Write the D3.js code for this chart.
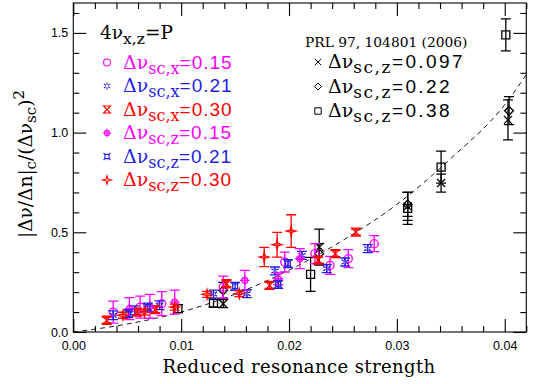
<!DOCTYPE html>
<html>
<head>
<meta charset="utf-8">
<script src="https://cdn.jsdelivr.net/npm/d3@7"></script>
<style>
  body { margin: 0; background: #fff; }
  svg { display: block; }
</style>
</head>
<body>
<svg id="chart" width="535" height="384"></svg>
<script>
// ---- measured points: reduced resonance strength vs |dnu/dn|_c / (dnu_sc)^2 ----
// Δν_sc,x = 0.15 (magenta circles)
const sx15X = [0.0037, 0.0062, 0.0082, 0.0139, 0.0196, 0.0224, 0.0238, 0.0255, 0.0279];
const sx15Y = [0.100, 0.125, 0.142, 0.225, 0.351, 0.393, 0.334, 0.368, 0.443];
const sx15E = [0.055, 0.055, 0.060, 0.055, 0.050, 0.050, 0.045, 0.045, 0.040];
// Δν_sc,x = 0.21 (blue)
const sx21X = [0.0037, 0.0057, 0.0080, 0.0130, 0.0161, 0.0187, 0.0212, 0.0235, 0.0252, 0.0273];
const sx21Y = [0.084, 0.109, 0.134, 0.190, 0.192, 0.306, 0.384, 0.318, 0.351, 0.418];
const sx21E = [0.022, 0.022, 0.022, 0.020, 0.020, 0.020, 0.020, 0.020, 0.020, 0.020];
// Δν_sc,x = 0.30 (red)
const sx30X = [0.0031, 0.0059, 0.0076, 0.0142, 0.0182, 0.0227, 0.0243, 0.0262];
const sx30Y = [0.059, 0.100, 0.112, 0.242, 0.234, 0.360, 0.393, 0.501];
const sx30E = [0.015, 0.015, 0.015, 0.015, 0.015, 0.015, 0.015, 0.015];
// Δν_sc,z = 0.15 (magenta)
const sz15X = [0.0052, 0.0071, 0.0094, 0.0159, 0.0190, 0.0210];
const sz15Y = [0.117, 0.129, 0.150, 0.259, 0.267, 0.368];
const sz15E = [0.055, 0.060, 0.060, 0.050, 0.030, 0.050];
// Δν_sc,z = 0.21 (blue)
const sz21X = [0.0051, 0.0069, 0.0150, 0.0190, 0.0199];
const sz21Y = [0.092, 0.125, 0.229, 0.239, 0.343];
const sz21E = [0.020, 0.020, 0.020, 0.020, 0.020];
// Δν_sc,z = 0.30 (red)
const sz30X = [0.0046, 0.0066, 0.0094, 0.0124, 0.0154, 0.0177, 0.0189, 0.0202];
const sz30Y = [0.084, 0.100, 0.125, 0.189, 0.192, 0.376, 0.438, 0.506];
const sz30E = [0.015, 0.015, 0.015, 0.015, 0.015, 0.048, 0.062, 0.082];

// ---- earlier measurements, PRL 97, 104801 (2006) ----
const p097X = [0.0139, 0.0228, 0.0310, 0.0341, 0.0403];
const p097Y = [0.142, 0.426, 0.630, 0.747, 1.064];
const p097E = [0.020, 0.090, 0.070, 0.045, 0.100];
const p022X = [0.0139, 0.0228, 0.0310, 0.0404];
const p022Y = [0.209, 0.393, 0.640, 1.110];
const p022E = [0.040, 0.050, 0.060, 0.070];
const p038X = [0.0097, 0.0130, 0.0220, 0.0310, 0.0341, 0.0401];
const p038Y = [0.117, 0.145, 0.289, 0.620, 0.827, 1.490];
const p038E = [0.020, 0.020, 0.085, 0.080, 0.080, 0.080];

// dashed guide curve, sampled
const curveX = [0, 0.005, 0.010, 0.015, 0.020, 0.025, 0.030, 0.035, 0.040, 0.042];
const curveY = [0, 0.040, 0.100, 0.190, 0.310, 0.460, 0.640, 0.870, 1.140, 1.290];

// axis ticks
const xMajor = [0, 0.01, 0.02, 0.03, 0.04];
const yMajor = [0, 0.5, 1.0, 1.5];

const seriesNew = [
  { sub: "sc,x", val: "=0.15", color: "#ff00ff", shape: "circle",     xs: sx15X, ys: sx15Y, es: sx15E },
  { sub: "sc,x", val: "=0.21", color: "#1f1fe6", shape: "asterisk",   xs: sx21X, ys: sx21Y, es: sx21E },
  { sub: "sc,x", val: "=0.30", color: "#ff0000", shape: "hourglass",  xs: sx30X, ys: sx30Y, es: sx30E },
  { sub: "sc,z", val: "=0.15", color: "#ff00ff", shape: "circleplus", xs: sz15X, ys: sz15Y, es: sz15E },
  { sub: "sc,z", val: "=0.21", color: "#1f1fe6", shape: "box",        xs: sz21X, ys: sz21Y, es: sz21E },
  { sub: "sc,z", val: "=0.30", color: "#ff0000", shape: "star",       xs: sz30X, ys: sz30Y, es: sz30E }
];
const seriesOld = [
  { sub: "sc,z", val: "=0.097", color: "#000", shape: "cross",   xs: p097X, ys: p097Y, es: p097E },
  { sub: "sc,z", val: "=0.22",  color: "#000", shape: "diamond", xs: p022X, ys: p022Y, es: p022E },
  { sub: "sc,z", val: "=0.38",  color: "#000", shape: "square",  xs: p038X, ys: p038Y, es: p038E }
];

const svg = d3.select("#chart");
const L = 73.3, R = 526.3, T = 3, B = 332;
const x = d3.scaleLinear().domain([0, 0.042]).range([L, R]);
const y = d3.scaleLinear().domain([0, 1.65]).range([B, T]);

const serif = "'DejaVu Serif', 'Liberation Serif', serif";
const sans = "'Liberation Sans', Arial, sans-serif";

// marker outlines, centred on the point
const shapes = {
  circle: s => `M${s},0A${s},${s} 0 1,1 ${-s},0A${s},${s} 0 1,1 ${s},0Z`,
  asterisk: s => `M0,${-s}V${-s*0.35}M0,${s*0.35}V${s}M${-s*0.9},${-s*0.55}L${-s*0.3},${-s*0.18}M${s*0.3},${s*0.18}L${s*0.9},${s*0.55}M${-s*0.9},${s*0.55}L${-s*0.3},${s*0.18}M${s*0.3},${-s*0.18}L${s*0.9},${-s*0.55}`,
  hourglass: s => `M${-s},${-s}H${s}L${-s},${s}H${s}Z`,
  circleplus: s => `M${s*0.75},0A${s*0.75},${s*0.75} 0 1,1 ${-s*0.75},0A${s*0.75},${s*0.75} 0 1,1 ${s*0.75},0ZM${-s*1.2},0H${s*1.2}M0,${-s*1.2}V${s*1.2}`,
  box: s => `M${-s*0.6},${-s*0.6}H${s*0.6}V${s*0.6}H${-s*0.6}ZM${-s*0.6},${-s*0.6}L${-s},${-s}M${s*0.6},${-s*0.6}L${s},${-s}M${s*0.6},${s*0.6}L${s},${s}M${-s*0.6},${s*0.6}L${-s},${s}`,
  star: s => `M0,${-s*1.2}L${s*0.25},${-s*0.25}L${s*1.2},0L${s*0.25},${s*0.25}L0,${s*1.2}L${-s*0.25},${s*0.25}L${-s*1.2},0L${-s*0.25},${-s*0.25}Z`,
  cross: s => `M${-s},${-s}L${s},${s}M${-s},${s}L${s},${-s}`,
  diamond: s => `M0,${-s*1.1}L${s*1.1},0L0,${s*1.1}L${-s*1.1},0Z`,
  square: s => `M${-s},${-s}H${s}V${s}H${-s}Z`
};

// ---- frame and ticks (inward, mirrored on all sides) ----
const axes = svg.append("g").attr("stroke", "#000").attr("stroke-width", 1.1);
axes.append("rect").attr("x", L).attr("y", T).attr("width", R - L).attr("height", B - T)
  .attr("fill", "none");

const xMinor = d3.range(0, 0.0421, 0.002).filter(v => !xMajor.some(m => Math.abs(m - v) < 1e-9));
const yMinor = d3.range(0, 1.651, 0.1).filter(v => !yMajor.some(m => Math.abs(m - v) < 1e-9));
const majLen = 13, minLen = 6;

const gxB = svg.append("g").attr("transform", `translate(0,${B})`)
  .call(d3.axisBottom(x).tickValues(xMajor).tickSize(-majLen).tickPadding(9).tickFormat(d3.format(".2f")));
const gxBm = svg.append("g").attr("transform", `translate(0,${B})`)
  .call(d3.axisBottom(x).tickValues(xMinor).tickSize(-minLen).tickFormat(""));
const gxT = svg.append("g").attr("transform", `translate(0,${T})`)
  .call(d3.axisTop(x).tickValues(xMajor).tickSize(-majLen).tickFormat(""));
const gxTm = svg.append("g").attr("transform", `translate(0,${T})`)
  .call(d3.axisTop(x).tickValues(xMinor).tickSize(-minLen).tickFormat(""));
const gyL = svg.append("g").attr("transform", `translate(${L},0)`)
  .call(d3.axisLeft(y).tickValues(yMajor).tickSize(-majLen).tickPadding(5).tickFormat(d3.format(".1f")));
const gyLm = svg.append("g").attr("transform", `translate(${L},0)`)
  .call(d3.axisLeft(y).tickValues(yMinor).tickSize(-minLen).tickFormat(""));
const gyR = svg.append("g").attr("transform", `translate(${R},0)`)
  .call(d3.axisRight(y).tickValues(yMajor).tickSize(-majLen).tickFormat(""));
const gyRm = svg.append("g").attr("transform", `translate(${R},0)`)
  .call(d3.axisRight(y).tickValues(yMinor).tickSize(-minLen).tickFormat(""));

[gxB, gxBm, gxT, gxTm, gyL, gyLm, gyR, gyRm].forEach(g => {
  g.select(".domain").remove();
  g.selectAll("line").attr("stroke", "#000").attr("stroke-width", 1.1);
  g.selectAll("text").attr("font-family", sans).attr("font-size", 12.5).attr("fill", "#000");
});

// ---- dashed guide curve ----
svg.append("clipPath").attr("id", "plotclip")
  .append("rect").attr("x", L).attr("y", T).attr("width", R - L).attr("height", B - T);
svg.append("path")
  .datum(d3.zip(curveX, curveY))
  .attr("clip-path", "url(#plotclip)")
  .attr("fill", "none").attr("stroke", "#000").attr("stroke-width", 0.9)
  .attr("stroke-dasharray", "5,4")
  .attr("d", d3.line().x(d => x(d[0])).y(d => y(d[1])).curve(d3.curveMonotoneX));

// ---- points with vertical error bars ----
const cap = 5;
function drawSeries(s, size) {
  const g = svg.append("g").attr("stroke", s.color).attr("fill", "none").attr("stroke-width", 1.3);
  const pts = s.xs.map((v, i) => ({ x: v, y: s.ys[i], e: s.es[i] }));
  g.selectAll("path.bar").data(pts).join("path").attr("class", "bar")
    .attr("d", d => {
      const cx = x(d.x), y0 = y(d.y - d.e), y1 = y(d.y + d.e);
      return `M${cx},${y0}V${y1}M${cx - cap},${y0}H${cx + cap}M${cx - cap},${y1}H${cx + cap}`;
    });
  g.selectAll("path.mark").data(pts).join("path").attr("class", "mark")
    .attr("transform", d => `translate(${x(d.x)},${y(d.y)})`)
    .attr("d", shapes[s.shape](size));
}
seriesOld.forEach(s => drawSeries(s, 4));
seriesNew.forEach(s => drawSeries(s, 4));

// ---- legends ----
function legendLabel(g, tx, ty, sub, val, big, small, subSpacing, spacing) {
  const t = g.append("text").attr("x", tx).attr("y", ty).attr("fill", "currentColor");
  t.append("tspan").attr("font-family", serif).attr("font-size", big).text("Δν");
  t.append("tspan").attr("font-family", serif).attr("font-size", small).attr("dy", 5)
    .attr("letter-spacing", subSpacing).text(sub);
  t.append("tspan").attr("font-family", sans).attr("font-size", big).attr("dy", -5)
    .attr("letter-spacing", spacing).text(val);
}

const legL = svg.append("g");
const t0 = legL.append("text").attr("x", 100).attr("y", 39).attr("font-family", serif).attr("fill", "#000");
t0.append("tspan").attr("font-size", 18.5).text("4ν");
t0.append("tspan").attr("font-size", 15.5).attr("dy", 5).text("x,z");
t0.append("tspan").attr("font-size", 18.5).attr("dy", -5).text("=P");

seriesNew.forEach((s, i) => {
  const cy = 62.5 + i * 23.5;
  const row = legL.append("g").style("color", s.color);
  row.append("path").attr("transform", `translate(107,${cy})`)
    .attr("d", shapes[s.shape](3.5)).attr("fill", "none").attr("stroke", s.color).attr("stroke-width", 1.1);
  legendLabel(row, 123, cy + 6, s.sub, s.val, 19, 16, 0, 1);
});

const legR = svg.append("g");
legR.append("text").attr("x", 305).attr("y", 47).attr("font-family", serif).attr("font-size", 13.8)
  .attr("fill", "#000").text("PRL 97, 104801 (2006)");
seriesOld.forEach((s, i) => {
  const cy = 62 + i * 24.5;
  const row = legR.append("g").style("color", "#000");
  row.append("path").attr("transform", `translate(318,${cy})`)
    .attr("d", shapes[s.shape](3.2)).attr("fill", "none").attr("stroke", "#000").attr("stroke-width", 1);
  legendLabel(row, 328, cy + 6, s.sub, s.val, 19, 17, 1.5, 2.4);
});

// ---- axis titles ----
svg.append("text").attr("x", 299).attr("y", 373).attr("text-anchor", "middle")
  .attr("font-family", serif).attr("font-size", 18).attr("letter-spacing", 0.4).attr("fill", "#000")
  .text("Reduced resonance strength");

const yt = svg.append("text").attr("transform", "translate(32,164) rotate(-90)")
  .attr("text-anchor", "middle").attr("font-family", serif).attr("font-size", 18.5).attr("fill", "#000");
yt.append("tspan").text("|Δν/Δn|");
yt.append("tspan").attr("font-size", 15).attr("dy", 4).text("c");
yt.append("tspan").attr("dy", -4).text("/(Δν");
yt.append("tspan").attr("font-size", 15).attr("dy", 4).text("sc");
yt.append("tspan").attr("dy", -4).text(")");
yt.append("tspan").attr("font-size", 15).attr("dy", -8).text("2");
</script>
</body>
</html>
